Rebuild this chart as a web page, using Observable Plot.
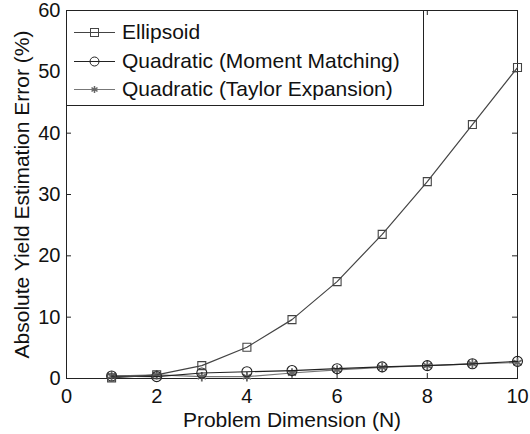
<!DOCTYPE html>
<html><head><meta charset="utf-8">
<script src="https://cdn.jsdelivr.net/npm/d3@7"></script>
<script src="https://cdn.jsdelivr.net/npm/@observablehq/plot@0.6"></script>
<style>
body{margin:0;background:#fff;font-family:"Liberation Sans",Arial,sans-serif;}
#wrap{position:relative;width:530px;height:434px;}
#legend{position:absolute;left:66px;top:10px;width:358px;height:96px;border:1px solid #222;background:#fff;box-sizing:border-box;}
.row{position:absolute;left:0;height:24px;display:flex;align-items:center;font-size:21px;color:#111;white-space:nowrap;}
.row svg{margin-left:7px;margin-right:7px;}
</style></head>
<body><div id="wrap"><div id="chart"></div><div id="legend"></div></div>
<script>
const dims = [1,2,3,4,5,6,7,8,9,10];
const ellipsoid = [0.1,0.6,2.1,5.1,9.6,15.8,23.5,32.1,41.4,50.7];
const momentMatching = [0.4,0.3,0.9,1.1,1.3,1.6,1.9,2.1,2.4,2.8];
const taylor = [0.4,0.6,0.3,0.3,0.9,1.4,1.8,2.1,2.4,2.6];
const seriesNames = ["Ellipsoid","Quadratic (Moment Matching)","Quadratic (Taylor Expansion)"];
const xTicks = [0,2,4,6,8,10];
const yTicks = [0,10,20,30,40,50,60];
const xTitle = "Problem Dimension (N)";
const yTitle = "Absolute Yield Estimation Error (%)";
const styles = [
  {stroke:"#444", symbol:"square", r:4.5, fill:"none", sw:1.1, lineStroke:"#444"},
  {stroke:"#222", symbol:"circle", r:5, fill:"none", sw:1.1, lineStroke:"#222"},
  {stroke:"#666", symbol:"asterisk", r:4.5, fill:"#777", sw:1.8, lineStroke:"#777"}
];
const allVals = [ellipsoid, momentMatching, taylor];
const rows = [];
allVals.forEach((vals,i)=>dims.forEach((n,j)=>rows.push({series:seriesNames[i], n, v:vals[j]})));

const marks = [];
[2,1,0].forEach(i=>{
  const data = rows.filter(d=>d.series===seriesNames[i]);
  const s = styles[i];
  marks.push(Plot.line(data,{x:"n",y:"v",stroke:s.lineStroke,strokeWidth:1.2}));
  marks.push(Plot.dot(data,{x:"n",y:"v",symbol:s.symbol,r:s.r,stroke:s.stroke,fill:s.fill,strokeWidth:s.sw}));
});

const chart = Plot.plot({
  width:530, height:434,
  marginLeft:66, marginRight:13, marginTop:10, marginBottom:56,
  style:{fontFamily:"Liberation Sans, Arial, sans-serif", fontSize:"20px", color:"#111", background:"#fff"},
  x:{domain:[0,10]},
  y:{domain:[0,60]},
  marks:[
    Plot.frame({stroke:"#222"}),
    Plot.ruleX(xTicks,{x:d=>d, insetTop:363, stroke:"#222"}),
    Plot.ruleX(xTicks,{x:d=>d, insetBottom:363, stroke:"#222"}),
    Plot.ruleY(yTicks,{y:d=>d, insetRight:446, stroke:"#222"}),
    Plot.ruleY(yTicks,{y:d=>d, insetLeft:446, stroke:"#222"}),
    Plot.axisX({ticks:xTicks, tickSize:0, tickPadding:10, fontSize:20, label:null}),
    Plot.axisY({ticks:yTicks, tickSize:0, tickPadding:6, fontSize:20, label:null}),
    Plot.text([xTitle],{text:d=>d, frameAnchor:"bottom", dy:42, lineAnchor:"middle", fontSize:21, fill:"#111"}),
    Plot.text([yTitle],{text:d=>d, frameAnchor:"left", dx:-44, rotate:-90, textAnchor:"middle", lineAnchor:"middle", fontSize:21, fill:"#111"}),
    ...marks
  ]
});
document.getElementById("chart").append(chart);

const legend = document.getElementById("legend");
const ys = [9,38,66];
seriesNames.forEach((name,i)=>{
  const s = styles[i];
  let sym = "";
  if (s.symbol==="square") sym = `<rect x="16.5" y="7.5" width="8" height="8" fill="none" stroke="${s.stroke}"/>`;
  else if (s.symbol==="circle") sym = `<circle cx="20.5" cy="11.5" r="4.5" fill="none" stroke="${s.stroke}"/>`;
  else sym = `<g stroke="${s.stroke}" stroke-width="1.5"><line x1="20.5" y1="8" x2="20.5" y2="15"/><line x1="17.5" y1="9.7" x2="23.5" y2="13.3"/><line x1="17.5" y1="13.3" x2="23.5" y2="9.7"/></g>`;
  const row = document.createElement("div");
  row.className="row"; row.style.top = ys[i]+"px";
  row.innerHTML = `<svg width="41" height="23"><line x1="0" y1="11.5" x2="41" y2="11.5" stroke="${s.lineStroke}" stroke-width="1.2"/>${sym}</svg><span>${name}</span>`;
  legend.append(row);
});
</script></body></html>
